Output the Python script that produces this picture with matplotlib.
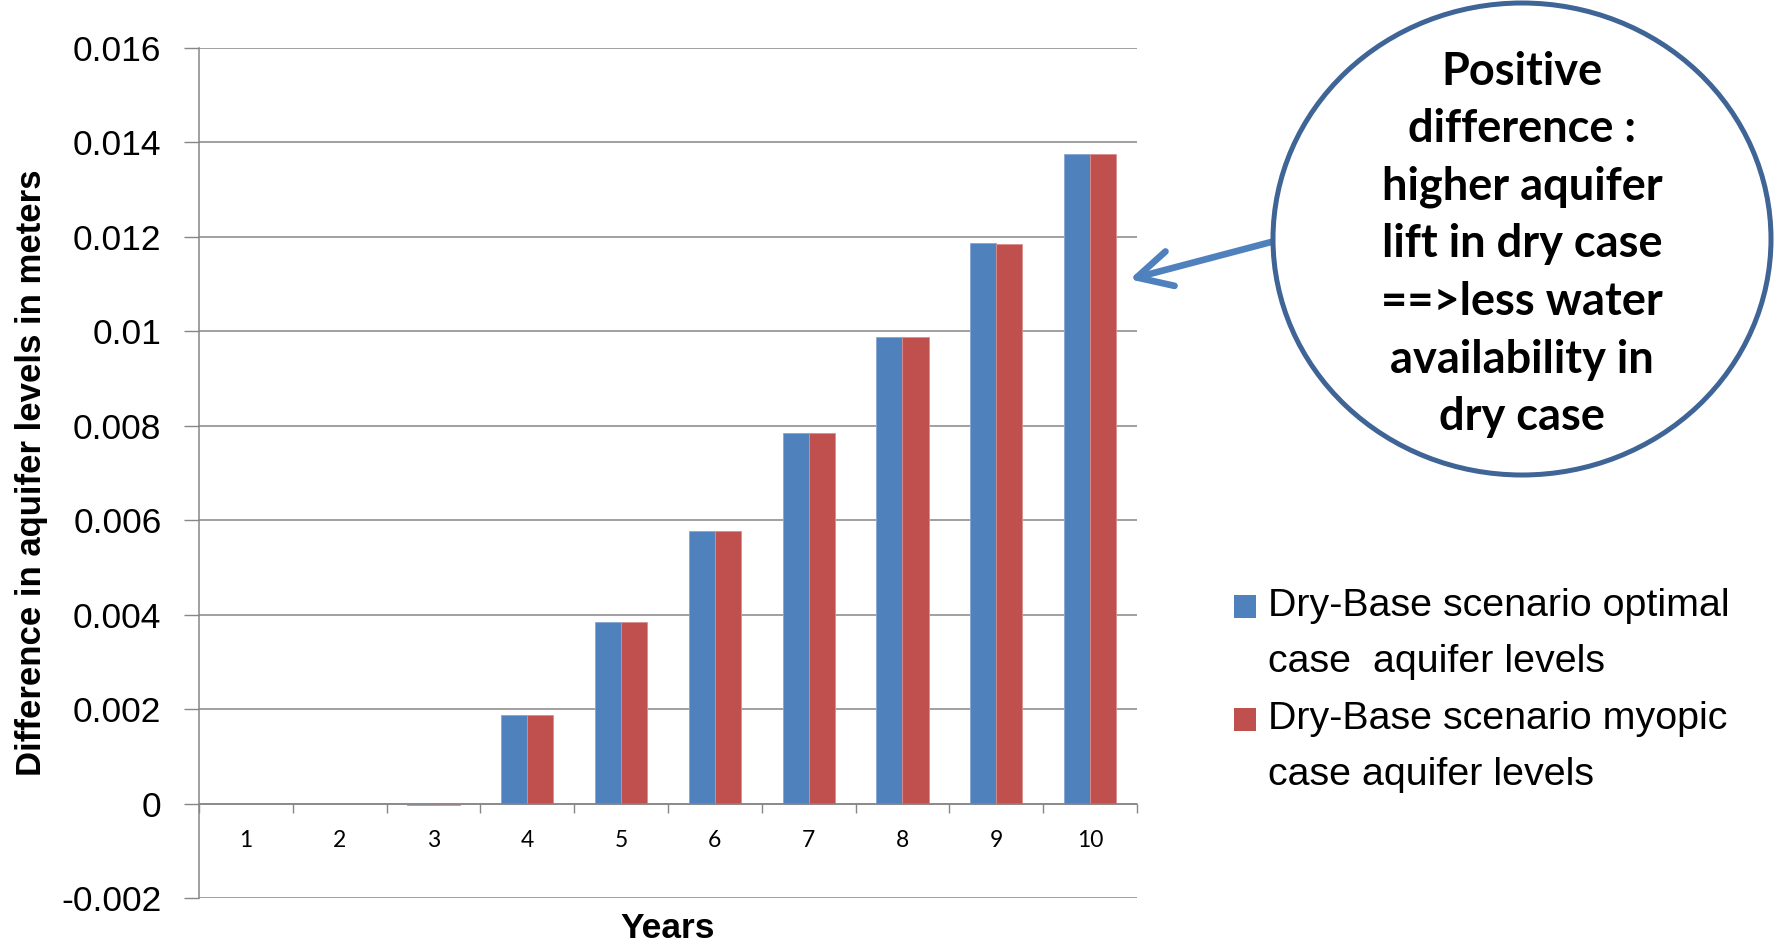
import matplotlib
matplotlib.use("Agg")
import matplotlib.pyplot as plt
from matplotlib.patches import Ellipse, Rectangle, FancyArrowPatch
from matplotlib.ticker import FixedLocator
import numpy as np

# ---- data -------------------------------------------------------------
years = [1, 2, 3, 4, 5, 6, 7, 8, 9, 10]
optimal_levels = [0.0, 0.0, -0.00004, 0.00188, 0.00385, 0.00577, 0.00784, 0.00989, 0.01186, 0.01376]
myopic_levels = [0.0, 0.0, -0.00004, 0.00188, 0.00385, 0.00577, 0.00784, 0.00988, 0.01185, 0.01375]
y_ticks = [-0.002, 0.0, 0.002, 0.004, 0.006, 0.008, 0.010, 0.012, 0.014, 0.016]
y_tick_labels = ["-0.002", "0", "0.002", "0.004", "0.006", "0.008", "0.01", "0.012", "0.014", "0.016"]
series_names = ["Dry-Base scenario optimal\ncase  aquifer levels",
                "Dry-Base scenario myopic\ncase aquifer levels"]
callout_lines = ["Positive", "difference :", "higher aquifer", "lift in dry case",
                 "==>less water", "availability in", "dry case"]

# ---- style ------------------------------------------------------------
BLUE, RED = "#4F81BD", "#C0504D"
EDGES = ["#86A6D2", "#DA8F8D"]
GRID = "#868686"
OUTLINE = "#3F6496"
SANS = ["Liberation Sans", "DejaVu Sans"]
ROUND = ["Lato", "DejaVu Sans"]

W, H = 1783, 946
fig = plt.figure(figsize=(W / 100, H / 100), dpi=100)
fig.patch.set_facecolor("white")

ax = fig.add_axes([199 / W, 48 / H, 938 / W, 850 / H])

x = np.array(years, dtype=float)
bw = 0.279
for offset, vals, col, edge in [(-bw / 2, optimal_levels, BLUE, EDGES[0]),
                                (bw / 2, myopic_levels, RED, EDGES[1])]:
    # zero-height bars get no outline so they stay invisible on the axis line
    lws = [0.6 if v != 0 else 0.0 for v in vals]
    ax.bar(x + offset, vals, bw, color=col, edgecolor=edge, linewidth=lws, zorder=3)

ax.set_xlim(0.5, len(years) + 0.5)
ax.set_ylim(y_ticks[0], y_ticks[-1])

# y axis
ax.set_yticks(y_ticks)
ax.set_yticklabels(y_tick_labels, family=SANS, fontsize=25.5)
ax.tick_params(axis="y", direction="out", length=11, width=1.0, color=GRID, pad=16)
ax.grid(axis="y", color=GRID, linewidth=1.1, zorder=0)
ax.set_axisbelow(True)

# category axis crossing at zero, ticks between categories
ax.spines["bottom"].set_position(("data", 0))
ax.spines["bottom"].set_color(GRID)
ax.spines["bottom"].set_linewidth(1.1)
ax.spines["bottom"].set_zorder(4)
ax.spines["left"].set_color(GRID)
ax.spines["left"].set_linewidth(1.1)
ax.spines["top"].set_visible(False)
ax.spines["right"].set_visible(False)
ax.set_xticks(years)
ax.set_xticklabels([str(y) for y in years], family=ROUND, fontsize=16.5)
ax.xaxis.set_minor_locator(FixedLocator(np.arange(0.5, len(years) + 1, 1.0)))
ax.tick_params(axis="x", which="major", length=0, pad=19)
ax.tick_params(axis="x", which="minor", direction="out", length=6.5, width=1.0, color=GRID)

ax.set_ylabel("Difference in aquifer levels in meters", family=SANS, fontsize=25, fontweight="bold")
ax.yaxis.set_label_coords(-0.161, 0.5)
ax.set_xlabel("Years", family=SANS, fontsize=25.5, fontweight="bold")
ax.xaxis.set_label_coords(0.5, -0.017)

# ---- legend -----------------------------------------------------------
first_line_y = 606
entry_step = 113
line_step = 56
for i, (name, col) in enumerate(zip(series_names, [BLUE, RED])):
    yc = first_line_y + i * entry_step
    fig.patches.append(Rectangle((1234 / W, 1 - (yc + 11.5) / H), 22 / W, 23 / H,
                                 transform=fig.transFigure, facecolor=col, edgecolor="none"))
    for j, line in enumerate(name.split("\n")):
        fig.text(1268 / W, 1 - (yc + j * line_step) / H, line, family=SANS,
                 fontsize=28.4, ha="left", va="center")

# ---- callout ----------------------------------------------------------
arrow = FancyArrowPatch((1275 / W, 1 - 241 / H), (1127 / W, 1 - 280 / H),
                        transform=fig.transFigure,
                        arrowstyle="->,head_length=0.62,head_width=0.32",
                        mutation_scale=40, linewidth=4.8, color=BLUE,
                        capstyle="round", joinstyle="round")
fig.patches.append(arrow)

cx, cy = 1522, 239
fig.patches.append(Ellipse((cx / W, 1 - cy / H), 498 / W, 472 / H,
                           transform=fig.transFigure, facecolor="white",
                           edgecolor=OUTLINE, linewidth=3.6))
for k, line in enumerate(callout_lines):
    fig.text(cx / W, 1 - (71.6 + k * 57.6) / H, line, family=ROUND, fontsize=32.5,
             fontweight="bold", ha="center", va="center")

fig.savefig("out.png", dpi=100, facecolor="white")
